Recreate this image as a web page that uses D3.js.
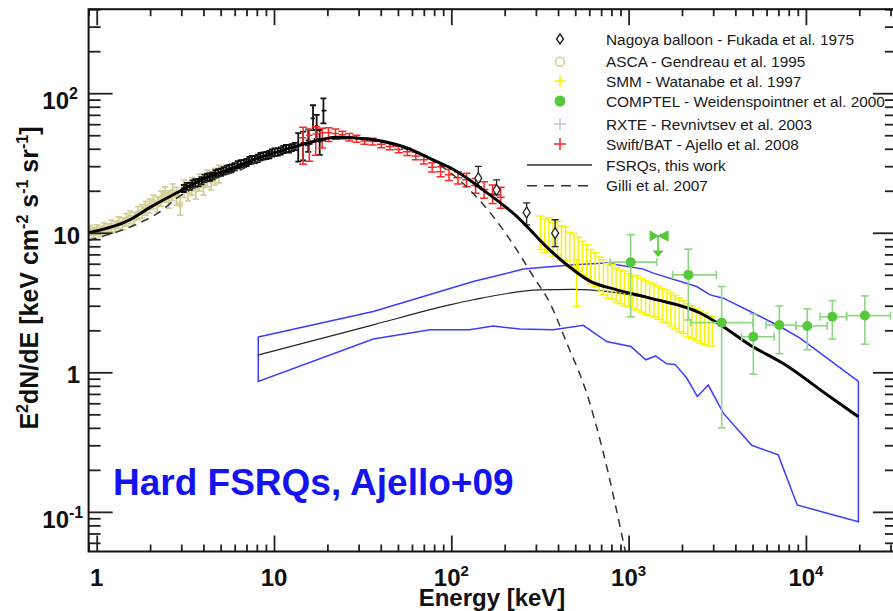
<!DOCTYPE html>
<html>
<head>
<meta charset="utf-8">
<script src="https://cdn.jsdelivr.net/npm/d3@7"></script>
<style>
  body { margin: 0; background: #fff; }
  svg { display: block; }
  text { font-family: "Liberation Sans", Arial, Helvetica, sans-serif; }
</style>
</head>
<body>
<svg id="chart" width="893" height="611"></svg>
<script>
// ---------- data ----------
// Rows: [energy keV, E^2 dN/dE, lower, upper]
const ascaData = [
  [0.92,10.4,9.6,11.3],[0.96,10.0,9.2,10.9],[1.00,10.5,9.7,11.4],[1.05,10.2,9.4,11.1],
  [1.10,10.8,9.9,11.8],[1.15,10.6,9.7,11.6],[1.21,11.2,10.2,12.3],[1.27,11.0,10.0,12.1],
  [1.33,11.8,10.7,13.0],[1.40,11.6,10.5,12.8],[1.47,12.4,11.2,13.7],[1.55,12.9,11.6,14.3],
  [1.63,12.6,11.3,14.0],[1.71,13.8,12.4,15.4],[1.80,14.2,12.7,15.9],[1.89,15.0,13.4,16.8],
  [1.99,15.6,13.9,17.5],[2.09,16.6,14.8,18.6],[2.20,16.0,14.1,18.1],[2.31,17.6,15.5,19.9],
  [2.43,18.8,16.5,21.3],[2.55,17.4,15.0,20.0],[2.68,19.6,17.0,22.4],[2.82,18.4,15.7,21.2],
  [2.96,16.0,13.4,18.6],[3.11,20.8,17.9,23.8],[3.27,19.8,16.9,22.8],[3.44,21.6,18.6,24.8],
  [3.62,20.4,17.4,23.6],[3.80,23.0,19.9,26.3],[4.00,21.8,18.6,25.2],[4.20,24.6,21.3,28.1],
  [4.42,23.6,20.3,27.1],[4.65,25.4,22.0,29.0],[4.89,26.4,22.8,30.4]
];
const rxteData = [
  [3.1,20.8,19.6,22.0],[3.22,21.5,20.3,22.8],[3.35,21.6,20.3,22.9],[3.47,22.4,21.1,23.7],
  [3.6,22.8,21.4,24.2],[3.75,22.9,21.5,24.3],[3.9,23.6,22.2,25.0],[4.05,24.6,23.1,26.1],
  [4.2,25.0,23.5,26.5],[4.35,25.1,23.6,26.6],[4.5,25.6,24.1,27.1],[4.67,26.5,24.9,28.1],
  [4.85,27.0,25.4,28.6],[5.02,27.2,25.6,28.8],[5.2,27.8,26.1,29.5],[5.4,28.6,26.9,30.3],
  [5.6,29.0,27.3,30.7],[5.8,29.2,27.5,30.9],[6.0,29.8,28.0,31.6],[6.25,30.8,29.0,32.6],
  [6.5,31.3,29.4,33.2],[6.75,31.4,29.5,33.3],[7.0,32.0,30.1,33.9],[7.25,33.0,31.0,35.0],
  [7.5,33.5,31.5,35.5],[7.8,33.6,31.6,35.6],[8.1,34.2,32.1,36.3],[8.4,35.2,33.1,37.3],
  [8.7,35.6,33.5,37.7],[9.05,35.8,33.7,37.9],[9.4,36.4,34.2,38.6],[9.75,37.4,35.2,39.6],
  [10.1,37.9,35.6,40.2],[10.5,38.0,35.7,40.3],[10.9,38.6,36.3,40.9],[11.3,39.6,37.2,42.0],
  [11.7,40.2,37.8,42.6],[12.15,40.0,37.6,42.4],[12.6,40.8,38.4,43.2],[13.1,41.6,39.1,44.1],
  [13.7,42,32.3,51.7],[14.6,44,33,53],[15.6,46,38,55],[16.6,66,54.5,82],
  [17.4,58,47,70],[18.1,45,36.1,54.5],[19.0,75,60.8,91.7]
];
const swiftData = [
  [14.6,48,31,57],[15.8,50,32.5,55],[17.2,51,36,57.6],[18.7,52,40.5,56],
  [20.3,52,45,56.5],[22.2,51.5,47,55.5],[24.3,50.3,47,53.5],[26.6,48.5,45.5,51.5],
  [29.2,47.3,44.5,50],[32.4,45.5,43,48],[36,45,42.5,47.5],[40.3,43,40.7,45.3],
  [45,41.5,39.3,43.8],[50.5,39.5,37.4,41.7],[56.5,38.0,35.8,40.3],[63,35.5,33.3,37.8],
  [70,33.3,31.1,35.6],[78,29.5,27.3,31.8],[87,27.4,25.2,29.7],[97,26.0,23.7,28.4],
  [109,24.8,22.4,27.3],[122,24.0,21.4,26.7],[137,21.8,19.2,24.5],[153,20.4,17.7,23.2],
  [171,19.0,16.2,22.0],[190,18.0,15.0,21.2]
];
const nagoyaData = [
  [142,24.6,21.4,29.9],[180,20.3,18.7,23.9],[266,14.0,11.4,16.4],[385,9.94,7.95,12.4]
];
const smmData = [
  [318,10.2,7.6,13.2],[336,9.6,7.2,12.5],[355,9.9,7.4,12.8],[375,9.1,6.8,11.9],
  [396,9.3,6.9,12.1],[418,8.6,6.4,11.2],[441,8.4,6.3,11.0],[466,7.7,5.7,10.1],
  [492,7.6,5.6,9.9],[509,4.4,2.96,6.4],[520,7.1,5.3,9.3],[549,6.7,5.0,8.7],
  [580,6.3,4.7,8.2],[612,5.8,4.3,7.6],[647,5.5,4.1,7.2],[683,5.1,3.8,6.7],
  [721,4.9,3.6,6.4],[762,4.6,3.4,6.0],[805,4.5,3.35,5.9],[850,4.3,3.2,5.6],
  [898,4.15,3.1,5.4],[948,4.05,3.0,5.3],[1001,3.95,2.95,5.1],[1057,3.8,2.85,4.95],
  [1117,3.75,2.8,4.9],[1180,3.6,2.7,4.7],[1246,3.5,2.6,4.55],[1316,3.4,2.55,4.4],
  [1390,3.3,2.5,4.3],[1468,3.2,2.4,4.15],[1551,3.1,2.3,4.0],[1638,3.0,2.25,3.9],
  [1730,2.85,2.15,3.7],[1828,2.75,2.05,3.55],[1930,2.6,1.95,3.4],[2039,2.5,1.9,3.25],
  [2154,2.4,1.8,3.1],[2275,2.3,1.75,3.0],[2403,2.2,1.68,2.85],[2538,2.15,1.62,2.75],
  [2681,2.05,1.58,2.65],[2832,2.0,1.55,2.55],[2970,1.98,1.55,2.5]
];
// COMPTEL rows: [energy, flux, lower, upper, energy low, energy high]
const comptelData = [
  [1028,6.16,2.5,9.7,785,1440],[2172,4.99,2.37,7.63,1770,3120],
  [3350,2.27,0.40,4.12,2240,5010],[5050,1.80,0.97,2.62,4350,6620],
  [7080,2.18,1.36,2.99,5960,8810],[10180,2.15,1.45,2.85,8810,13200],
  [14100,2.50,1.73,3.27,12000,16960],[21500,2.55,1.59,3.53,16960,30000]
];
// COMPTEL upper limit: [energy, flux, energy low, energy high, arrow tip flux]
const comptelLimit = [1466, 9.5, 1321, 1671, 6.7];

// Model curves: [energy, E^2 dN/dE]
const totalModel = [
  [0.9,10.0],[1.54,12.4],[2.0,15.2],[2.95,19.9],[4.0,24.3],[5.65,28.5],[8,34],
  [10.8,38.5],[15,43.5],[22.6,48.4],[34.8,46.8],[53.6,41.4],[82.7,32.4],[100,29.0],
  [151,20.3],[234,13.1],[360,7.5],[448,5.9],[605,4.5],[857,3.90],[1322,3.40],
  [2531,2.66],[3404,2.13],[4830,1.57],[7420,1.16],[13600,0.67],[19770,0.48]
];
const gilliModel = [
  [0.9,8.8],[1.04,9.3],[1.54,11.0],[2.28,14.2],[2.83,17.7],[4.0,22.8],[6.43,28.2],
  [10,36.5],[15,42],[22,47],[30,47.5],[50,41.5],[80,32.5],[127,20.3],[172,13.1],
  [234,7.54],[290,4.86],[360,3.13],[448,1.62],[580,0.71],[713,0.279],[958,0.052]
];
const fsrqModel = [
  [8.15,1.33],[36.3,2.19],[98,3.04],[133,3.31],[316,3.90],[488,3.93],[752,3.8],
  [1000,3.6],[1322,3.40],[2531,2.66],[3404,2.13],[4830,1.57],[7420,1.16],
  [13600,0.67],[19770,0.48]
];
const fsrqUpper = [
  [8.15,1.79],[36.3,2.73],[133,4.47],[255,5.49],[488,5.89],[752,6.06],[1211,5.49],
  [1378,5.14],[2421,4.12],[2880,3.59],[3420,3.40],[5050,2.66],[7140,2.13],
  [9270,1.76],[19770,0.86]
];
const fsrqLower = [
  [8.15,0.86],[36.3,1.73],[75.9,2.02],[127,2.02],[172,2.15],[244,2.04],[376,2.02],
  [555,2.17],[752,1.66],[1030,1.53],[1250,1.23],[1420,1.31],[1641,1.15],[1828,1.14],
  [2128,0.91],[2442,0.67],[2815,0.81],[3420,0.51],[4945,0.30],[6980,0.256],
  [8930,0.112],[19770,0.085]
];

// Axis labels
const xMajor = [1, 10, 100, 1000, 10000];
const xLabelBase = ["1", "10", "10", "10", "10"];
const xLabelExp = ["", "", "2", "3", "4"];
const yMajor = [0.1, 1, 10, 100];
const yLabelBase = ["10", "1", "10", "10"];
const yLabelExp = ["-1", "", "", "2"];

const legendLabels = [
  "Nagoya balloon - Fukada et al. 1975",
  "ASCA - Gendreau et al. 1995",
  "SMM - Watanabe et al. 1997",
  "COMPTEL - Weidenspointner et al. 2000",
  "RXTE - Revnivtsev et al. 2003",
  "Swift/BAT - Ajello et al. 2008",
  "FSRQs, this work",
  "Gilli et al. 2007"
];

// ---------- layout ----------
const svg = d3.select("#chart");
svg.append("rect").attr("width", 893).attr("height", 611).attr("fill", "#fff");

const x = d3.scaleLog().domain([0.9, 32600]).range([88.6, 896.9]);
const y = d3.scaleLog().domain([0.052, 400]).range([551.5, 9.2]);
const [xl, xr] = x.range();
const [yb, yt] = y.range();

const colors = {
  asca: "#d3ce93", smm: "#f8f400", comptel: "#57c83a", comptelBar: "#8fd784",
  rxte: "#111", rxteLegend: "#bccad8", swift: "#ff2626", band: "#3c3cff"
};

svg.append("clipPath").attr("id", "plotClip")
  .append("rect").attr("x", xl).attr("y", yt).attr("width", xr - xl).attr("height", yb - yt);
const plot = svg.append("g").attr("clip-path", "url(#plotClip)");

// ---------- helpers ----------
function errorBars(layer, rows, color, opt) {
  const g = layer.append("g").attr("stroke", color).attr("stroke-width", opt.sw || 1.5)
    .attr("fill", "none");
  const cap = opt.cap || 0;
  g.selectAll(null).data(rows).join("line")
    .attr("x1", d => x(d[0])).attr("x2", d => x(d[0]))
    .attr("y1", d => y(d[2])).attr("y2", d => y(d[3]));
  if (cap) {
    [2, 3].forEach(i => {
      g.selectAll(null).data(rows).join("line")
        .attr("x1", d => x(d[0]) - cap).attr("x2", d => x(d[0]) + cap)
        .attr("y1", d => y(d[i])).attr("y2", d => y(d[i]));
    });
  }
  if (opt.hbar) {
    // horizontal bar reaching halfway to neighbouring points
    const px = rows.map(d => x(d[0]));
    g.selectAll(null).data(rows).join("line")
      .attr("x1", (d, i) => i > 0 ? (px[i] + px[i - 1]) / 2 : px[i] - opt.hbar)
      .attr("x2", (d, i) => i < rows.length - 1 ? (px[i] + px[i + 1]) / 2 : px[i] + opt.hbar)
      .attr("y1", d => y(d[1])).attr("y2", d => y(d[1]));
  }
  return g;
}

// ---------- FSRQ band and model ----------
const lineGen = d3.line().x(d => x(d[0])).y(d => y(d[1]));
const smoothGen = d3.line().x(d => x(d[0])).y(d => y(d[1])).curve(d3.curveMonotoneX);

plot.append("path")
  .attr("d", lineGen(fsrqUpper.concat(fsrqLower.slice().reverse())) + "Z")
  .attr("fill", "none").attr("stroke", colors.band).attr("stroke-width", 1.5);

plot.append("path").attr("d", smoothGen(fsrqModel))
  .attr("fill", "none").attr("stroke", "#222").attr("stroke-width", 1.2);

// ---------- data sets ----------
errorBars(plot, smmData, colors.smm, { cap: 4, sw: 1.5 });

errorBars(plot, ascaData, colors.asca, { cap: 3, sw: 1.7, hbar: 3 });
plot.append("g").selectAll("circle").data(ascaData).join("circle")
  .attr("cx", d => x(d[0])).attr("cy", d => y(d[1])).attr("r", 2.5)
  .attr("fill", "none").attr("stroke", colors.asca).attr("stroke-width", 1.3);

errorBars(plot, rxteData, colors.rxte, { cap: 3, sw: 1.8, hbar: 3 });

errorBars(plot, swiftData, colors.swift, { cap: 4, sw: 1.5, hbar: 4 });

errorBars(plot, nagoyaData, "#222", { cap: 3.5, sw: 1.3 });
plot.append("g").selectAll("path").data(nagoyaData).join("path")
  .attr("d", d => {
    const cx = x(d[0]), cy = y(d[1]);
    return `M${cx},${cy - 5.5}L${cx + 3.5},${cy}L${cx},${cy + 5.5}L${cx - 3.5},${cy}Z`;
  })
  .attr("fill", "#fff").attr("stroke", "#222").attr("stroke-width", 1.3);

// ---------- model curves ----------
plot.append("path").attr("d", smoothGen(gilliModel))
  .attr("fill", "none").attr("stroke", "#333").attr("stroke-width", 1.5)
  .attr("stroke-dasharray", "8,6");

plot.append("path").attr("d", smoothGen(totalModel))
  .attr("fill", "none").attr("stroke", "#000").attr("stroke-width", 3);

// ---------- COMPTEL ----------
const cg = plot.append("g").attr("stroke", colors.comptelBar).attr("stroke-width", 1.6);
cg.selectAll(null).data(comptelData).join("line")
  .attr("x1", d => x(d[0])).attr("x2", d => x(d[0]))
  .attr("y1", d => y(d[2])).attr("y2", d => y(d[3]));
cg.selectAll(null).data(comptelData).join("line")
  .attr("x1", d => x(d[4])).attr("x2", d => x(d[5]))
  .attr("y1", d => y(d[1])).attr("y2", d => y(d[1]));
[2, 3].forEach(i => cg.selectAll(null).data(comptelData).join("line")
  .attr("x1", d => x(d[0]) - 4).attr("x2", d => x(d[0]) + 4)
  .attr("y1", d => y(d[i])).attr("y2", d => y(d[i])));
[4, 5].forEach(i => cg.selectAll(null).data(comptelData).join("line")
  .attr("x1", d => x(d[i])).attr("x2", d => x(d[i]))
  .attr("y1", d => y(d[1]) - 4).attr("y2", d => y(d[1]) + 4));
plot.append("g").selectAll("circle").data(comptelData).join("circle")
  .attr("cx", d => x(d[0])).attr("cy", d => y(d[1])).attr("r", 5)
  .attr("fill", colors.comptel);

// upper limit: bow-tie energy range with a downward arrow
{
  const [e, f, e0, e1, tip] = comptelLimit;
  const cx = x(e), cy = y(f), a = x(e0), b = x(e1), ty = y(tip);
  const ul = plot.append("g");
  ul.append("path")
    .attr("d", `M${a},${cy - 5}L${a},${cy + 5}L${cx},${cy}Z M${b},${cy - 5}L${b},${cy + 5}L${cx},${cy}Z`)
    .attr("fill", colors.comptel).attr("stroke", colors.comptel).attr("stroke-width", 1);
  ul.append("line").attr("x1", a).attr("x2", b).attr("y1", cy).attr("y2", cy)
    .attr("stroke", colors.comptel).attr("stroke-width", 1.6);
  ul.append("line").attr("x1", cx).attr("x2", cx).attr("y1", cy).attr("y2", ty - 5)
    .attr("stroke", colors.comptel).attr("stroke-width", 1.6);
  ul.append("path").attr("d", `M${cx - 5.5},${ty - 6.5}L${cx + 5.5},${ty - 6.5}L${cx},${ty}Z`)
    .attr("fill", colors.comptel);
}

// ---------- axes ----------
const minorX = x.ticks().filter(v => !xMajor.includes(v) && v >= 0.9);
const isMajorY = v => yMajor.some(m => Math.abs(m - v) / m < 1e-6);
const minorYv = y.ticks().filter(v => !isMajorY(v));

function tickAxis(axisFn, scale, values, size, transform) {
  const g = svg.append("g").attr("transform", transform)
    .call(axisFn(scale).tickValues(values).tickSize(-size).tickFormat(""));
  g.select(".domain").remove();
  g.selectAll(".tick line").attr("stroke", "#222").attr("stroke-width", 1.8);
  return g;
}
tickAxis(d3.axisBottom, x, minorX, 7, `translate(0,${yb})`);
tickAxis(d3.axisBottom, x, xMajor, 16, `translate(0,${yb})`);
tickAxis(d3.axisTop, x, minorX, 7, `translate(0,${yt})`);
tickAxis(d3.axisTop, x, xMajor, 16, `translate(0,${yt})`);
tickAxis(d3.axisLeft, y, minorYv, 12, `translate(${xl},0)`);
tickAxis(d3.axisLeft, y, yMajor, 24, `translate(${xl},0)`);
tickAxis(d3.axisRight, y, minorYv, 12, `translate(${xr},0)`);
tickAxis(d3.axisRight, y, yMajor, 24, `translate(${xr},0)`);

svg.append("rect").attr("x", xl).attr("y", yt).attr("width", xr - xl).attr("height", yb - yt)
  .attr("fill", "none").attr("stroke", "#111").attr("stroke-width", 2);

// tick labels
const xLab = svg.append("g").attr("font-weight", "bold").attr("font-size", 24).attr("fill", "#111");
xMajor.forEach((v, i) => {
  const t = xLab.append("text").attr("x", x(v)).attr("y", 586).attr("text-anchor", "middle");
  t.append("tspan").text(xLabelBase[i]);
  if (xLabelExp[i]) t.append("tspan").attr("font-size", 15).attr("dy", -10).text(xLabelExp[i]);
});
const yLab = svg.append("g").attr("font-weight", "bold").attr("font-size", 24).attr("fill", "#111");
yMajor.forEach((v, i) => {
  const ty = y(v);
  if (yLabelExp[i]) {
    yLab.append("text").attr("x", 69).attr("y", ty + 16).attr("text-anchor", "end").text(yLabelBase[i]);
    yLab.append("text").attr("x", 69).attr("y", ty + 6).attr("font-size", 16).text(yLabelExp[i]);
  } else {
    yLab.append("text").attr("x", 80).attr("y", ty + 11).attr("text-anchor", "end").text(yLabelBase[i]);
  }
});

// axis titles
svg.append("text").attr("x", 492).attr("y", 606).attr("text-anchor", "middle")
  .attr("font-weight", "bold").attr("font-size", 24).attr("fill", "#111").text("Energy [keV]");

const yt0 = svg.append("text").attr("transform", "translate(38,278) rotate(-90)")
  .attr("text-anchor", "middle").attr("font-weight", "bold").attr("font-size", 25).attr("fill", "#111");
[["E", 0], ["2", 1], ["dN/dE [keV cm", 0], ["-2", 1], [" s", 0], ["-1", 1],
 [" sr", 0], ["-1", 1], ["]", 0]].forEach((p, i, arr) => {
  const sup = p[1] === 1;
  const prevSup = i > 0 && arr[i - 1][1] === 1;
  const dy = sup ? -10 : (prevSup ? 10 : 0);
  yt0.append("tspan").attr("font-size", sup ? 16 : 25).attr("dy", dy).text(p[0]);
});

// annotation
svg.append("text").attr("x", 113).attr("y", 495)
  .attr("font-weight", "bold").attr("font-size", 37).attr("fill", "#1414f0")
  .text("Hard FSRQs, Ajello+09");

// ---------- legend ----------
const legRows = [39, 61.7, 81, 101, 124, 144, 165, 185.7];
const leg = svg.append("g");
leg.selectAll("text").data(legendLabels).join("text")
  .attr("x", 606).attr("y", (d, i) => legRows[i] + 5.5)
  .attr("font-size", 15.4).attr("fill", "#1a1a1a").text(d => d);
const sx = 560;
leg.append("path")
  .attr("d", `M${sx},${legRows[0] - 5}L${sx + 3.5},${legRows[0]}L${sx},${legRows[0] + 5}L${sx - 3.5},${legRows[0]}Z`)
  .attr("fill", "#fff").attr("stroke", "#222").attr("stroke-width", 1.4);
leg.append("circle").attr("cx", sx).attr("cy", legRows[1]).attr("r", 4.5)
  .attr("fill", "none").attr("stroke", colors.asca).attr("stroke-width", 1.5);
function plus(cy, color) {
  leg.append("path").attr("d", `M${sx - 6},${cy}H${sx + 6}M${sx},${cy - 6}V${cy + 6}`)
    .attr("stroke", color).attr("stroke-width", 1.5);
}
plus(legRows[2], colors.smm);
leg.append("circle").attr("cx", sx).attr("cy", legRows[3]).attr("r", 5.5).attr("fill", colors.comptel);
plus(legRows[4], colors.rxteLegend);
plus(legRows[5], colors.swift);
leg.append("line").attr("x1", 527).attr("x2", 592).attr("y1", legRows[6]).attr("y2", legRows[6])
  .attr("stroke", "#333").attr("stroke-width", 1.5);
leg.append("line").attr("x1", 527).attr("x2", 590).attr("y1", legRows[7]).attr("y2", legRows[7])
  .attr("stroke", "#333").attr("stroke-width", 1.5).attr("stroke-dasharray", "10,7");
</script>
</body>
</html>
